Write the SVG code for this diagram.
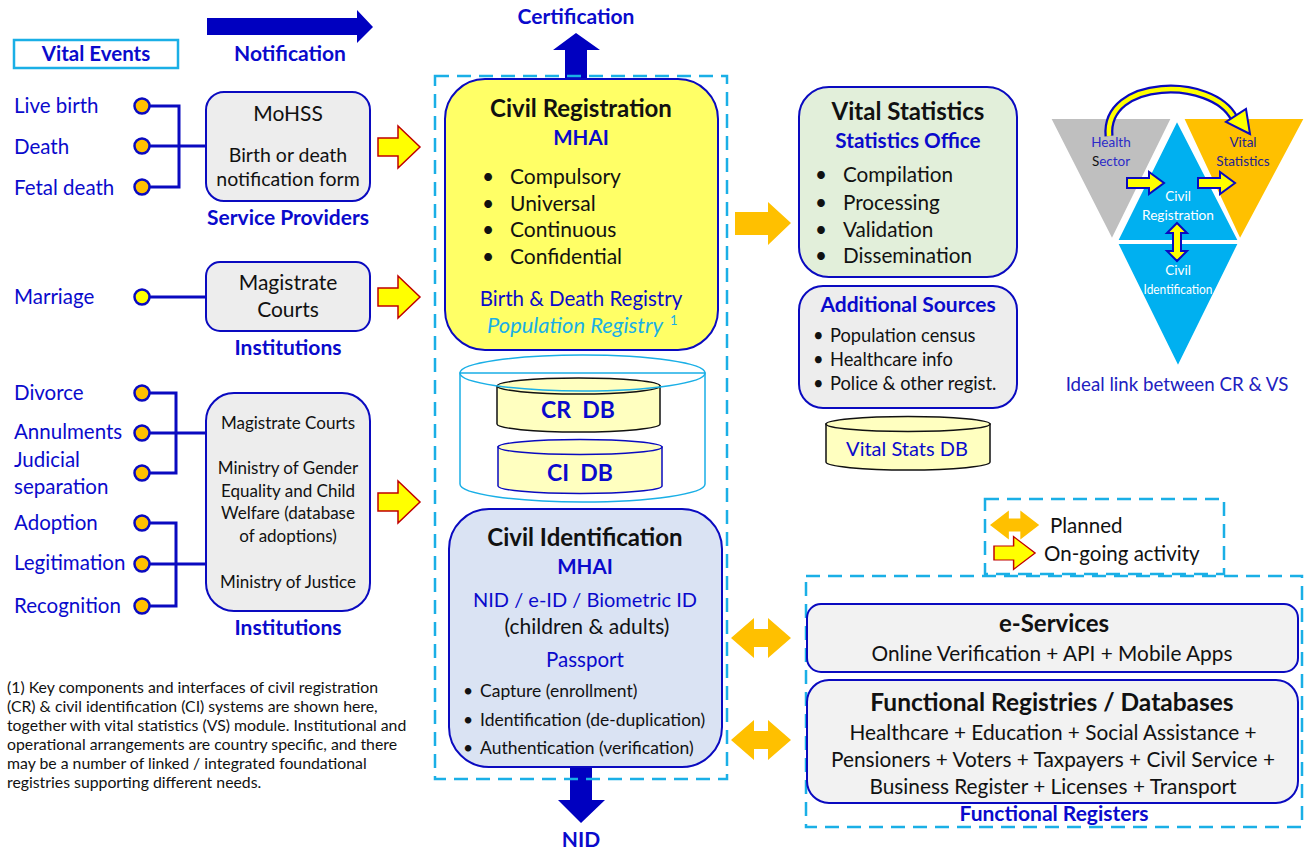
<svg xmlns="http://www.w3.org/2000/svg" width="1307" height="850" viewBox="0 0 1307 850">
<defs>
<style>
text{font-family:Lato,"Liberation Sans",sans-serif}
.blu{fill:#0A0ACC}
.blk{fill:#111}
.bd{font-weight:bold}
.m{text-anchor:middle}
.box{stroke:#0A0AC0;stroke-width:2}
.gray{fill:#EDEDED}
.dash{fill:none;stroke:#1AAFE6;stroke-width:2.5;stroke-dasharray:14 8}
.wire{stroke:#0A0AC0;stroke-width:3;fill:none}
.dot{fill:#FFC000;stroke:#0A0AC0;stroke-width:2.5}
.on{fill:#FFFF00;stroke:#C00000;stroke-width:1.5}
.pl{fill:#FFC000}
.dk{fill:#0000C0}
.tri{stroke:#fff;stroke-width:2}
.ya{fill:#FFFF00;stroke:#0A0AC0;stroke-width:2}
.wt{fill:#fff;font-size:13.5px}
.lbl{font-size:21px;font-weight:bold;fill:#0A0ACC;text-anchor:middle}
.ttl{font-size:24px;font-weight:bold;fill:#111;text-anchor:middle}
</style>
<path id="ongo" d="M0,-9H20V-21L42,0L20,21V9H0Z"/>
<path id="plan" d="M0,0L23,-20V-9H37V-20L60,0L37,20V9H23V20Z"/>
<path id="sya" d="M0,-5H22V-11L37,0L22,11V5H0Z"/>
</defs>
<rect width="1307" height="850" fill="#fff"/>

<g id="vital-events">
<rect x="14" y="40" width="164" height="28" fill="#fff" stroke="#1AAFE6" stroke-width="2.5"/>
<text x="96" y="61" class="blu bd m" font-size="20.5">Vital Events</text>
</g>

<g id="notification">
<path class="dk" d="M207,18H357V10L373,27L357,43V35H207Z"/>
<text x="290" y="61" class="lbl">Notification</text>
</g>

<g id="certification">
<path class="dk" d="M565,79V50H553L576,33L600,50H587V79Z"/>
<text x="576" y="24" class="lbl">Certification</text>
</g>

<g id="nid">
<path class="dk" d="M570,767V800H558L581,823L605,800H592V767Z"/>
<text x="581" y="847" class="lbl">NID</text>
</g>

<g id="connectors">
<path class="wire" d="M150,106H179V187H150M150,146H206"/>
<path class="wire" d="M150,297H206"/>
<path class="wire" d="M150,393H176V473H150M150,433H206"/>
<path class="wire" d="M150,523H176V606H150M150,564H206"/>
<use href="#ongo" class="on" transform="translate(378,147)"/>
<use href="#ongo" class="on" transform="translate(378,297)"/>
<use href="#ongo" class="on" transform="translate(378,502)"/>
<path class="pl" d="M735,212H768V202L791,223L768,245V235H735Z"/>
<use href="#plan" class="pl" transform="translate(731,638)"/>
<use href="#plan" class="pl" transform="translate(731,740)"/>
</g>

<g id="events">
<g font-size="20.5" class="blu">
<text x="14" y="113">Live birth</text>
<text x="14" y="154">Death</text>
<text x="14" y="195">Fetal death</text>
<text x="14" y="304">Marriage</text>
<text x="14" y="400">Divorce</text>
<text x="14" y="439">Annulments</text>
<text x="14" y="467">Judicial</text>
<text x="14" y="494">separation</text>
<text x="14" y="530">Adoption</text>
<text x="14" y="570">Legitimation</text>
<text x="14" y="613">Recognition</text>
</g>
<circle class="dot" cx="142" cy="106" r="7.5"/>
<circle class="dot" cx="142" cy="146" r="7.5"/>
<circle class="dot" cx="142" cy="187" r="7.5"/>
<circle class="dot" cx="142" cy="297" r="7.5" style="fill:#FFFF00"/>
<circle class="dot" cx="142" cy="393" r="7.5"/>
<circle class="dot" cx="142" cy="433" r="7.5"/>
<circle class="dot" cx="142" cy="473" r="7.5"/>
<circle class="dot" cx="142" cy="523" r="7.5"/>
<circle class="dot" cx="142" cy="564" r="7.5"/>
<circle class="dot" cx="142" cy="606" r="7.5"/>
</g>

<g id="mohss">
<rect x="206" y="92" width="164" height="109" rx="18" class="box gray"/>
<text x="288" y="121" class="blk m" font-size="21">MoHSS</text>
<text x="288" y="162" class="blk m" font-size="19.5">Birth or death</text>
<text x="288" y="186" class="blk m" font-size="19.5">notification form</text>
<text x="288" y="225" class="lbl">Service Providers</text>
</g>

<g id="magistrate">
<rect x="206" y="262" width="164" height="69" rx="14" class="box gray"/>
<text x="288" y="290" class="blk m" font-size="21">Magistrate</text>
<text x="288" y="317" class="blk m" font-size="21">Courts</text>
<text x="288" y="355" class="lbl">Institutions</text>
</g>

<g id="institutions">
<rect x="206" y="393" width="164" height="218" rx="28" class="box gray"/>
<g class="blk m" font-size="17">
<text x="288" y="429">Magistrate Courts</text>
<text x="288" y="474">Ministry of Gender</text>
<text x="288" y="497">Equality and Child</text>
<text x="288" y="519">Welfare (database</text>
<text x="288" y="542">of adoptions)</text>
<text x="288" y="588">Ministry of Justice</text>
</g>
<text x="288" y="635" class="lbl">Institutions</text>
</g>

<rect id="core-frame" x="435" y="76" width="292" height="703" class="dash"/>

<g id="civil-registration">
<rect x="445" y="79" width="273" height="271" rx="40" fill="#FFFF66" class="box"/>
<text x="581" y="117" class="ttl">Civil Registration</text>
<text x="581" y="145" class="blu bd m" font-size="20.5">MHAI</text>
<g class="blk" font-size="21">
<text x="482" y="184">•</text><text x="510" y="184">Compulsory</text>
<text x="482" y="211">•</text><text x="510" y="211">Universal</text>
<text x="482" y="237">•</text><text x="510" y="237">Continuous</text>
<text x="482" y="264">•</text><text x="510" y="264">Confidential</text>
</g>
<text x="581" y="306" class="blu m" font-size="20.5">Birth &amp; Death Registry</text>
<text x="487" y="333" font-size="21" font-style="italic" fill="#1AAFE6" textLength="176" lengthAdjust="spacingAndGlyphs">Population Registry</text>
<text x="670" y="325" font-size="13" fill="#1AAFE6">1</text>
</g>

<g id="databases">
<path d="M460,373V484A122.5,18 0 0 0 705,484V373Z" fill="#fff" stroke="#1AAFE6" stroke-width="1.5"/>
<path d="M497,386V424A81.5,8 0 0 0 660,424V386Z" fill="#FFFFC0" stroke="#111" stroke-width="1.5"/>
<ellipse cx="578.5" cy="386" rx="81.5" ry="8" fill="#FFFFC0" stroke="#111" stroke-width="1.5"/>
<text x="578" y="418" class="blu bd m" font-size="23">CR&#160; DB</text>
<path d="M498,447V486A82,7.5 0 0 0 662,486V447Z" fill="#FFFFC0" stroke="#0A0AC0" stroke-width="1.5"/>
<ellipse cx="580" cy="447" rx="82" ry="7.5" fill="#FFFFC0" stroke="#0A0AC0" stroke-width="1.5"/>
<text x="580" y="481" class="blu bd m" font-size="23">CI&#160; DB</text>
<ellipse cx="582.5" cy="373" rx="122.5" ry="18" fill="none" stroke="#1AAFE6" stroke-width="1.5"/>
</g>

<g id="civil-identification">
<rect x="449" y="509" width="273" height="258" rx="40" fill="#DAE3F3" class="box"/>
<text x="585" y="546" class="ttl">Civil Identification</text>
<text x="585" y="574" class="blu bd m" font-size="20.5">MHAI</text>
<text x="585" y="607" class="blu m" font-size="20">NID / e-ID / Biometric ID</text>
<text x="587" y="634" class="blk m" font-size="21">(children &amp; adults)</text>
<text x="585" y="667" class="blu m" font-size="20.5">Passport</text>
<g class="blk" font-size="17.5">
<text x="463" y="697">•</text><text x="480" y="697">Capture (enrollment)</text>
<text x="463" y="726">•</text><text x="480" y="726">Identification (de-duplication)</text>
<text x="463" y="754">•</text><text x="480" y="754">Authentication (verification)</text>
</g>
</g>

<g id="vital-statistics">
<rect x="799" y="87" width="218" height="190" rx="30" fill="#E2EFDA" class="box"/>
<text x="908" y="120" class="ttl">Vital Statistics</text>
<text x="908" y="148" class="blu bd m" font-size="20.7">Statistics Office</text>
<g class="blk" font-size="20.7">
<text x="815" y="182">•</text><text x="843" y="182">Compilation</text>
<text x="815" y="210">•</text><text x="843" y="210">Processing</text>
<text x="815" y="237">•</text><text x="843" y="237">Validation</text>
<text x="815" y="263">•</text><text x="843" y="263">Dissemination</text>
</g>
</g>

<g id="additional-sources">
<rect x="799" y="286" width="218" height="122" rx="24" class="box gray"/>
<text x="908" y="312" class="blu bd m" font-size="21">Additional Sources</text>
<g class="blk" font-size="18.3">
<text x="813" y="342">•</text><text x="830" y="342">Population census</text>
<text x="813" y="366">•</text><text x="830" y="366">Healthcare info</text>
<text x="813" y="390">•</text><text x="830" y="390">Police &amp; other regist.</text>
</g>
</g>

<g id="vital-stats-db">
<path d="M826,424V462A82,8 0 0 0 990,462V424Z" fill="#FFFFC0" stroke="#111" stroke-width="1.5"/>
<ellipse cx="908" cy="424" rx="82" ry="7.5" fill="#FFFFC0" stroke="#111" stroke-width="1.5"/>
<text x="907" y="456" class="blu m" font-size="20">Vital Stats DB</text>
</g>

<g id="ideal-link">
<polygon class="tri" points="1050,118 1172,118 1112,240" fill="#BFBFBF"/>
<polygon class="tri" points="1183,118 1305,118 1240,240" fill="#FFC000"/>
<polygon class="tri" points="1177,120 1117,241 1239,241" fill="#00B0F0"/>
<polygon class="tri" points="1117,243 1239,243 1178,367" fill="#00B0F0"/>
<path d="M1109,136C1104,78 1212,76 1234,118" fill="none" stroke="#0A0AC0" stroke-width="9"/>
<path d="M1109,136C1104,78 1212,76 1234,118" fill="none" stroke="#FFFF00" stroke-width="4.5"/>
<polygon points="1250,134 1226,122 1246,109" class="ya"/>
<text x="1111" y="147" class="m" font-size="13.5" fill="#2B2BC8">Health</text>
<text x="1111" y="166" class="m" font-size="13.5" fill="#2B2BC8"><tspan fill="#111">S</tspan>ector</text>
<text x="1243" y="147" class="m" font-size="13.5" fill="#23238F">Vital</text>
<text x="1243" y="166" class="m" font-size="13.5" fill="#23238F">Statistics</text>
<text x="1178" y="201" class="m wt">Civil</text>
<text x="1178" y="220" class="m wt" textLength="72" lengthAdjust="spacingAndGlyphs">Registration</text>
<text x="1178" y="275" class="m wt">Civil</text>
<text x="1178" y="294" class="m wt" textLength="69" lengthAdjust="spacingAndGlyphs">Identification</text>
<use href="#sya" class="ya" transform="translate(1127,183)"/>
<use href="#sya" class="ya" transform="translate(1198,183)"/>
<path class="ya" d="M1177,223L1187,233H1181V251H1187L1177,261L1167,251H1173V233H1167Z"/>
<text x="1177" y="391" class="m" font-size="18.7" fill="#2020C0">Ideal link between CR &amp; VS</text>
</g>

<g id="legend">
<rect x="985" y="499" width="239" height="75" class="dash"/>
<use href="#plan" class="pl" transform="translate(990,525) scale(0.82,0.72)"/>
<text x="1050" y="533" class="blk" font-size="20.5">Planned</text>
<use href="#ongo" class="on" transform="translate(994,553) scale(0.98,0.78)"/>
<text x="1044" y="561" class="blk" font-size="20.5">On-going activity</text>
</g>

<rect id="functional-frame" x="806" y="576" width="496" height="251" class="dash"/>

<g id="e-services">
<rect x="807" y="604" width="491" height="68" rx="14" fill="#F2F2F2" class="box"/>
<text x="1054" y="632" class="ttl">e-Services</text>
<text x="1052" y="661" class="blk m" font-size="20.8">Online Verification + API + Mobile Apps</text>
</g>

<g id="functional-registries">
<rect x="807" y="680" width="491" height="123" rx="22" fill="#F2F2F2" class="box"/>
<text x="1052" y="711" class="ttl" font-size="24.5" style="font-size:24.5px">Functional Registries / Databases</text>
<text x="1053" y="740" class="blk m" font-size="20.8">Healthcare + Education + Social Assistance +</text>
<text x="1053" y="767" class="blk m" font-size="20.8">Pensioners + Voters + Taxpayers + Civil Service +</text>
<text x="1053" y="794" class="blk m" font-size="20.8">Business Register + Licenses + Transport</text>
<text x="1054" y="821" class="lbl">Functional Registers</text>
</g>

<g id="footnote" class="blk" font-size="15.8">
<text x="7" y="693">(1) Key components and interfaces of civil registration</text>
<text x="7" y="712">(CR) &amp; civil identification (CI) systems are shown here,</text>
<text x="7" y="731">together with vital statistics (VS) module. Institutional and</text>
<text x="7" y="750">operational arrangements are country specific, and there</text>
<text x="7" y="769">may be a number of linked / integrated foundational</text>
<text x="7" y="788">registries supporting different needs.</text>
</g>
</svg>
